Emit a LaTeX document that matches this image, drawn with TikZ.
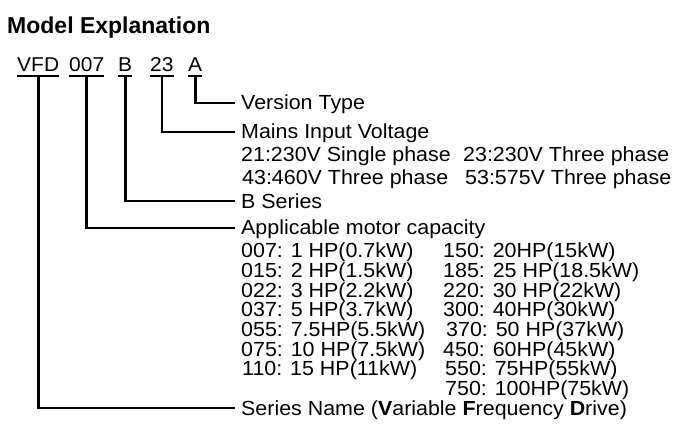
\documentclass[tikz,border=0pt]{standalone}
\usepackage{fontspec}
\setmainfont[FakeStretch=1.05]{Liberation Sans}
\newfontfamily\titlefont{Liberation Sans}
\usepackage{tikz}

\begin{document}
\begin{tikzpicture}[x=1pt,y=-1pt,
		code/.style={anchor=base west,inner xsep=0pt,inner ysep=4pt,text height=14pt,text depth=0pt,font=\fontsize{20}{22}\selectfont},
		lab/.style={anchor=base west,inner xsep=6pt,inner ysep=0pt,text height=14pt,text depth=0pt,font=\fontsize{20.4}{22}\selectfont},
		uline/.style={line width=1.6pt},
		conn/.style={line width=2.6pt}]
				\useasboundingbox (0,0) rectangle (686,433);
				
				\node[anchor=base west,inner sep=0pt,font=\titlefont\bfseries\fontsize{23}{26}\selectfont] (title) at (7,34) {Model Explanation};
				
				\node[code] (vfd) at (17,72) {VFD};%series name
				\node[code] (cap) at (69,72) {007};%motor capacity
				\node[code] (ser) at (118,72) {B};%series
				\node[code] (volt) at (150,72) {23};%input voltage
				\node[code] (ver) at (188,72) {A};%version
				
				\draw[uline] (vfd.south west) -- (vfd.south east);
				\draw[uline] (cap.south west) -- (cap.south east);
				\draw[uline] (ser.south west) -- (ser.south east);
				\draw[uline] (volt.south west) -- (volt.south east);
				\draw[uline] (ver.south west) -- (ver.south east);
				
				\node[lab] (lver) at (235,110) {Version Type};
				\node[lab] (lvolt) at (235,139) {Mains Input Voltage};
				\node[lab] (v21) at (235,162) {21:230V Single phase};
				\node[lab] (v23) at (457,162) {23:230V Three phase};
				\node[lab] (v43) at (236,185) {43:460V Three phase};
				\node[lab] (v53) at (459,185) {53:575V Three phase};
				\node[lab] (lser) at (235,208) {B Series};
				\node[lab] (lcap) at (235,235) {Applicable motor capacity};
				
				\node[lab] (c007) at (235,258) {007: 1 HP(0.7kW)};
				\node[lab] (c015) at (235,277.6) {015: 2 HP(1.5kW)};
				\node[lab] (c022) at (235,297.2) {022: 3 HP(2.2kW)};
				\node[lab] (c037) at (235,316.8) {037: 5 HP(3.7kW)};
				\node[lab] (c055) at (235,336.4) {055: 7.5HP(5.5kW)};
				\node[lab] (c075) at (235,356) {075: 10 HP(7.5kW)};
				\node[lab] (c110) at (236,375.6) {110: 15 HP(11kW)};
				\node[lab] (c150) at (437,258) {150: 20HP(15kW)};
				\node[lab] (c185) at (437,277.6) {185: 25 HP(18.5kW)};
				\node[lab] (c220) at (437,297.2) {220: 30 HP(22kW)};
				\node[lab] (c300) at (437,316.8) {300: 40HP(30kW)};
				\node[lab] (c370) at (440,336.4) {370: 50 HP(37kW)};
				\node[lab] (c450) at (437,356) {450: 60HP(45kW)};
				\node[lab] (c550) at (439,375.6) {550: 75HP(55kW)};
				\node[lab] (c750) at (439,395.2) {750: 100HP(75kW)};
				
				\node[lab] (lname) at (235,415) {Series Name (\textbf{V}ariable \textbf{F}requency \textbf{D}rive)};
				
				\draw[conn] (ver.south) |- (lver.west);
				\draw[conn] (volt.south) |- (lvolt.west);
				\draw[conn] (ser.south) |- (lser.west);
				\draw[conn] (cap.south) |- (lcap.west);
				\draw[conn] (vfd.south) |- (lname.west);
			\end{tikzpicture}
\end{document}
